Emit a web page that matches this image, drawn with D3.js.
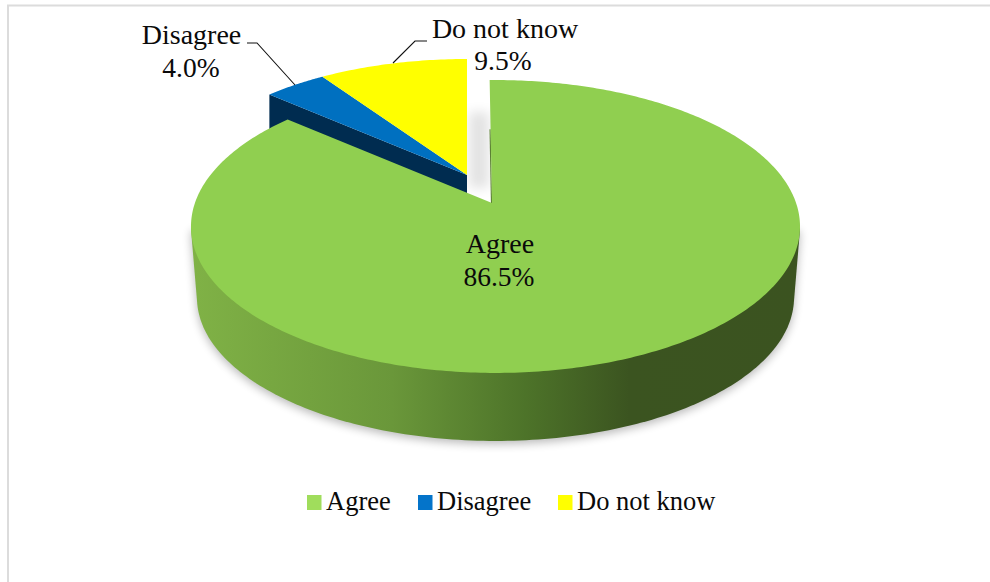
<!DOCTYPE html>
<html><head><meta charset="utf-8">
<script src="https://cdn.jsdelivr.net/npm/d3@7"></script>
<style>html,body{margin:0;padding:0;background:#fff}svg{display:block}text{font-family:"Liberation Serif","Times New Roman",serif;fill:#0a0a0a}</style>
</head><body><svg id="c" width="990" height="582"></svg>
<script>
const categories = ["Agree", "Disagree", "Do not know"];
const shares = [86.5, 4.0, 9.5];
const topColors = ["#90cf50", "#0070c0", "#ffff00"];
const legendColors = ["#a0dd5c", "#0474ca", "#ffff00"];
const wallStops = [[0, "#80b246"], [0.33, "#6a973a"], [0.55, "#4d7329"], [0.72, "#3b5420"], [1, "#3b5320"]];

const svg = d3.select("#c");
const defs = svg.append("defs");
const blur = (id, s) => defs.append("filter").attr("id", id)
  .attr("x", "-20%").attr("y", "-20%").attr("width", "140%").attr("height", "140%")
  .append("feGaussianBlur").attr("stdDeviation", s);
blur("soft", 5); blur("gapSoft", 6);
const g = defs.append("linearGradient").attr("id", "wall").attr("gradientUnits", "userSpaceOnUse")
  .attr("x1", 191).attr("x2", 800).attr("y1", 0).attr("y2", 0);
wallStops.forEach(s => g.append("stop").attr("offset", s[0]).attr("stop-color", s[1]));

// frame
svg.append("path").attr("d", "M8,582V5.5H990").attr("fill", "none").attr("stroke", "#dcdcdc").attr("stroke-width", 2);

// projected disc: a circle seen in perspective
const k = 0.1638;
const proj = (o, a) => {
  const X = Math.sin(a), Y = -Math.cos(a), w = 1 - k * Y;
  return [o.x + o.rx * X / w, o.y + o.ry * Y / w];
};
const rimTop = {x: 495.5, y: 202.5, rx: 300.4, ry: 142.5};
const rimBottom = {x: 495.5, y: 274, rx: 294.5, ry: 139.6};
const wedgeRim = {x: 467, y: 175, rx: 292, ry: 135};
const greenApex = [492, 203];
const depth = 68;
const rot = -1.3 * Math.PI / 180;

const arcs = d3.pie().sort(null).value(d => d)(shares);
const line = d3.line();
const sample = (o, a0, a1, n = 160) => d3.range(n + 1).map(i => proj(o, a0 + (a1 - a0) * i / n));

// soft shadows
const full = d3.range(360).map(i => i * Math.PI / 180);
const front = full.filter(a => -Math.cos(a) >= k);
const hull = d3.polygonHull(front.map(a => proj(rimTop, a)).concat(full.map(a => proj(rimBottom, a)).filter(p => p[1] >= 297)));
svg.append("path").attr("d", line(hull) + "Z").attr("fill", "#000").attr("opacity", 0.28)
  .attr("transform", "translate(0,3)").attr("filter", "url(#soft)");
svg.append("rect").attr("x", 469).attr("y", 112).attr("width", 20).attr("height", 76)
  .attr("fill", "#000").attr("opacity", 0.11).attr("filter", "url(#gapSoft)");

// wedge cut faces, then wedge tops
[arcs[1], arcs[2]].forEach((d, i) => {
  const a = proj(wedgeRim, d.startAngle);
  const apex = [wedgeRim.x, wedgeRim.y];
  if (i === 0) svg.append("path").attr("d", line([a, apex, [apex[0], apex[1] + depth], [a[0], a[1] + depth]]) + "Z").attr("fill", "#002c50");
});
[arcs[1], arcs[2]].forEach((d, i) => {
  svg.append("path")
    .attr("d", line([[wedgeRim.x, wedgeRim.y]].concat(sample(wedgeRim, d.startAngle, d.endAngle, 40))) + "Z")
    .attr("fill", topColors[i + 1]);
});

// green side wall
svg.append("path").attr("d", line(hull) + "Z").attr("fill", "url(#wall)");

// green cut edge + top
const s0 = proj(rimTop, arcs[0].startAngle + rot);
const edgeFrom = [s0[0] + (greenApex[0] - s0[0]) * 0.4, s0[1] + (greenApex[1] - s0[1]) * 0.4];
svg.append("line").attr("x1", edgeFrom[0] - 0.5).attr("y1", edgeFrom[1]).attr("x2", greenApex[0] - 0.5).attr("y2", greenApex[1])
  .attr("stroke", "#5c8034").attr("stroke-width", 1.2);
svg.append("path")
  .attr("d", line([greenApex].concat(sample(rimTop, arcs[0].startAngle + rot, arcs[0].endAngle + rot, 400))) + "Z")
  .attr("fill", topColors[0]);

// leader lines
const leaders = [[[247, 43], [257, 43], [295, 85]], [[427, 41], [415, 41], [393, 63]]];
leaders.forEach(p => svg.append("path").attr("d", line(p)).attr("fill", "none").attr("stroke", "#111").attr("stroke-width", 1.1));

// data labels
const labelPos = [[500, 253, 499, 286], [191.5, 44, 191, 77], [505, 38, 503, 70]];
categories.forEach((c, i) => {
  const [x1, y1, x2, y2] = labelPos[i];
  svg.append("text").attr("x", x1).attr("y", y1).attr("text-anchor", "middle").attr("font-size", 28).text(c);
  svg.append("text").attr("x", x2).attr("y", y2).attr("text-anchor", "middle").attr("font-size", 27.5).text(d3.format(".1f")(shares[i]) + "%");
});

// legend
const legendX = [307, 418, 558];
categories.forEach((c, i) => {
  svg.append("rect").attr("x", legendX[i]).attr("y", 495).attr("width", 14.5).attr("height", 15).attr("fill", legendColors[i]);
  svg.append("text").attr("x", legendX[i] + 19).attr("y", 510).attr("font-size", 26.5).text(c);
});
</script></body></html>
